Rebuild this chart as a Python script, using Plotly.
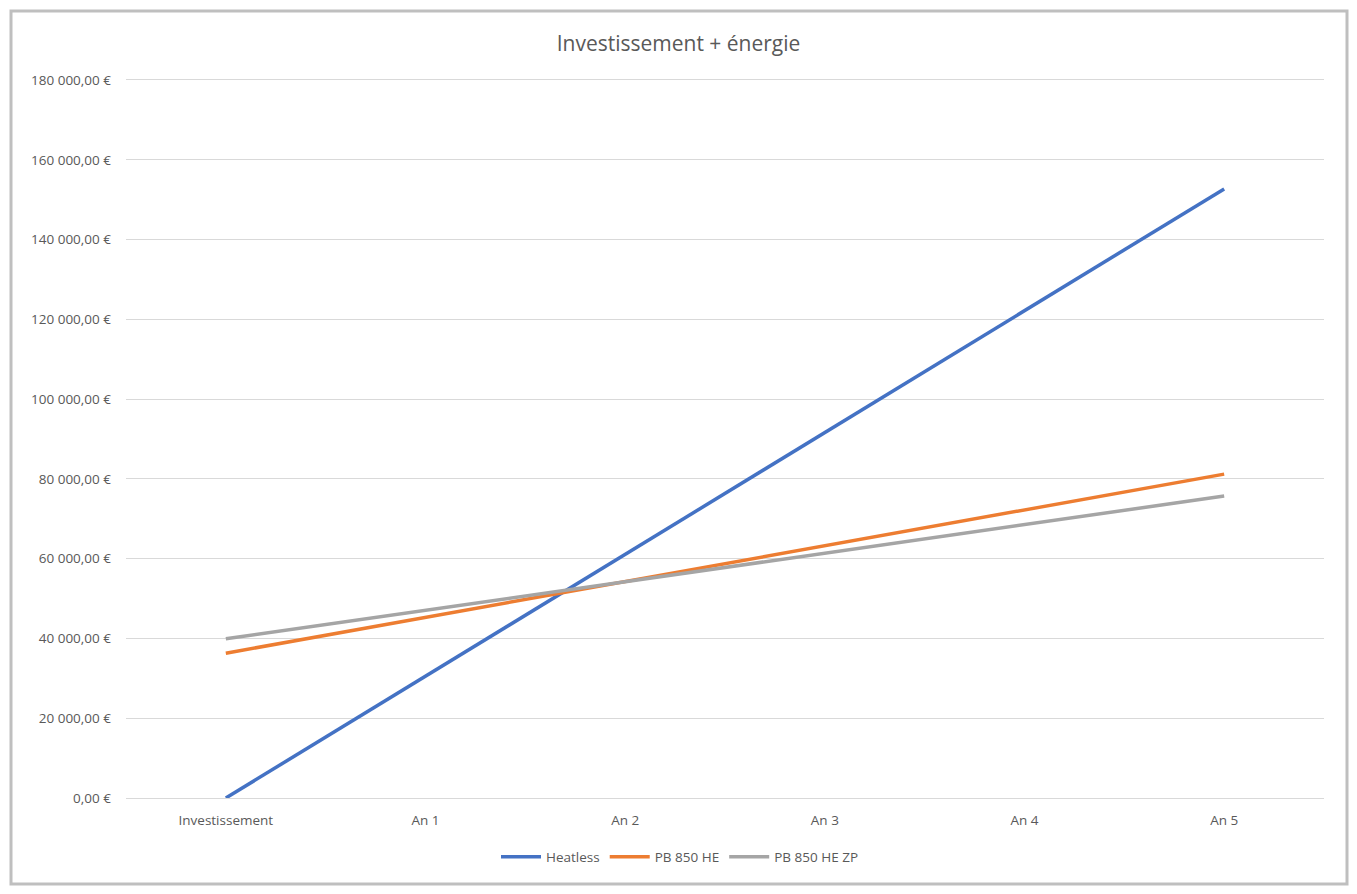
import plotly.graph_objects as go

categories = ["Investissement", "An 1", "An 2", "An 3", "An 4", "An 5"]
heatless = [0, 30500, 61100, 91600, 122200, 152700]
pb850he = [36300, 45300, 54300, 63300, 72200, 81200]
pb850hezp = [39900, 47100, 54200, 61400, 68500, 75700]

y_tickvals = [0, 20000, 40000, 60000, 80000, 100000, 120000, 140000, 160000, 180000]
y_ticktext = ["0,00 €", "20 000,00 €", "40 000,00 €", "60 000,00 €", "80 000,00 €",
              "100 000,00 €", "120 000,00 €", "140 000,00 €", "160 000,00 €", "180 000,00 €"]

series = [
    ("Heatless", heatless, "#4472C4"),
    ("PB 850 HE", pb850he, "#ED7D31"),
    ("PB 850 HE ZP", pb850hezp, "#A5A5A5"),
]

fig = go.Figure()
for name, vals, color in series:
    fig.add_trace(go.Scatter(x=categories, y=vals, mode="lines", name=name,
                             line=dict(color=color, width=3.5)))

L, R, T, B = 126, 33, 80, 96
W, H = 1357, 894
pw = W - L - R
ph = H - T - B

small = 13.5

fig.update_layout(
    width=W, height=H,
    margin=dict(l=L, r=R, t=T, b=B),
    paper_bgcolor="white", plot_bgcolor="white",
    font=dict(family="Open Sans, sans-serif", color="#595959", size=small),
    title=dict(text="Investissement + énergie", x=0.5, xanchor="center",
               y=1 - 44 / H, yanchor="middle",
               font=dict(size=21, color="#595959")),
    showlegend=True,
    legend=dict(orientation="h", x=(680 - L) / pw, xanchor="center",
                y=(ph - (857 - T)) / ph, yanchor="middle",
                font=dict(size=small, color="#595959"), itemwidth=40,
                bgcolor="rgba(0,0,0,0)"),
    xaxis=dict(type="category", range=[-0.5, 5.5], showgrid=False, zeroline=False,
               showline=True, linecolor="#D9D9D9", linewidth=1, mirror=True,
               ticks="", ticklabelstandoff=10,
               tickfont=dict(size=small, color="#595959")),
    yaxis=dict(range=[0, 180000], tickvals=y_tickvals, ticktext=y_ticktext,
               showgrid=True, gridcolor="#D9D9D9", gridwidth=1, zeroline=False,
               showline=False, ticks="", ticklabelstandoff=14,
               tickfont=dict(size=small, color="#595959")),
)

# outer chart frame
fig.add_shape(type="rect", xref="paper", yref="paper",
              x0=(11 - L) / pw, x1=(1347 - L) / pw,
              y0=(ph - (884 - T)) / ph, y1=(ph - (11 - T)) / ph,
              line=dict(color="#BFBFBF", width=3), layer="below")

fig.write_html("out.html")
